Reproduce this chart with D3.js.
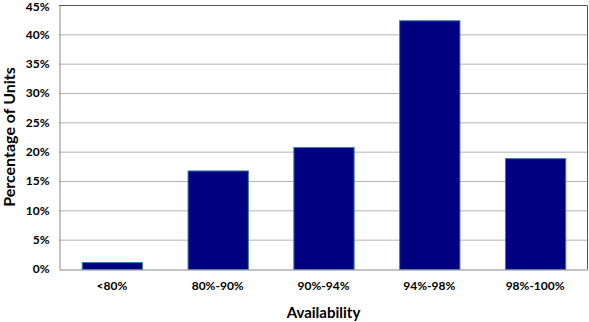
<!DOCTYPE html>
<html><head><meta charset="utf-8">
<script src="https://cdn.jsdelivr.net/npm/d3@7"></script>
<style>body{margin:0;background:#fff}svg{display:block}text{font-family:Lato,"Open Sans",sans-serif;font-weight:bold;fill:#000}</style>
</head><body><svg id="c" width="589" height="322"></svg>
<script>
const categories = ["<80%", "80%-90%", "90%-94%", "94%-98%", "98%-100%"];
const values = [1.2, 16.8, 20.8, 42.4, 18.9];
const yTicks = [0, 5, 10, 15, 20, 25, 30, 35, 40, 45];
const xTitle = "Availability";
const yTitle = "Percentage of Units";

const svg = d3.select("#c");
const m = {l: 59, r: 1, t: 5, b: 53};
const W = 589, H = 322;
const x = d3.scaleBand().domain(categories).range([m.l, W - m.r]).paddingInner(0.43).paddingOuter(0.215);
const y = d3.scaleLinear().domain([0, 45]).range([H - m.b, m.t]);

// grid
svg.append("g").selectAll("line").data(yTicks.filter(d => d > 0 && d < 45)).join("line")
  .attr("x1", m.l).attr("x2", W - m.r).attr("y1", d => y(d) + 0.5).attr("y2", d => y(d) + 0.5)
  .attr("stroke", "#b3b3b3").attr("stroke-width", 1);

// plot border top/right
svg.append("path").attr("d", `M${m.l},${m.t + 0.5}H${W - m.r - 0.5}V${H - m.b}`)
  .attr("fill", "none").attr("stroke", "#555").attr("stroke-width", 1);

// bars
svg.append("g").selectAll("rect").data(values).join("rect")
  .attr("x", (d, i) => x(categories[i]) + 0.5).attr("width", x.bandwidth())
  .attr("y", d => y(d) + 0.5).attr("height", d => y(0) - y(d))
  .attr("fill", "#000080").attr("stroke", "#3a7fa8").attr("stroke-width", 1);

// axes
const ya = svg.append("g").attr("transform", `translate(${m.l + 0.5},0)`)
  .call(d3.axisLeft(y).tickValues(yTicks).tickFormat(d => d + "%").tickSize(0).tickPadding(10));
ya.select(".domain").attr("stroke", "#888");
ya.selectAll("text").style("font-size", "12px").style("font-family", "Lato, sans-serif").style("font-weight", "bold")
  .attr("dy", d => d === 45 ? "0.42em" : "0.32em");

const xa = svg.append("g").attr("transform", `translate(0,${H - m.b + 0.5})`)
  .call(d3.axisBottom(x).tickSize(0).tickPadding(12));
xa.select(".domain").attr("stroke", "#888");
xa.selectAll("text").style("font-size", "12px").style("font-family", "Lato, sans-serif").style("font-weight", "bold");

svg.append("text").attr("x", (m.l + W - m.r) / 2).attr("y", 318).attr("text-anchor", "middle")
  .style("font-size", "15px").text(xTitle);
svg.append("text").attr("transform", `translate(15,${(m.t + H - m.b) / 2}) rotate(-90)`).attr("text-anchor", "middle")
  .style("font-size", "16px").text(yTitle);
</script></body></html>
